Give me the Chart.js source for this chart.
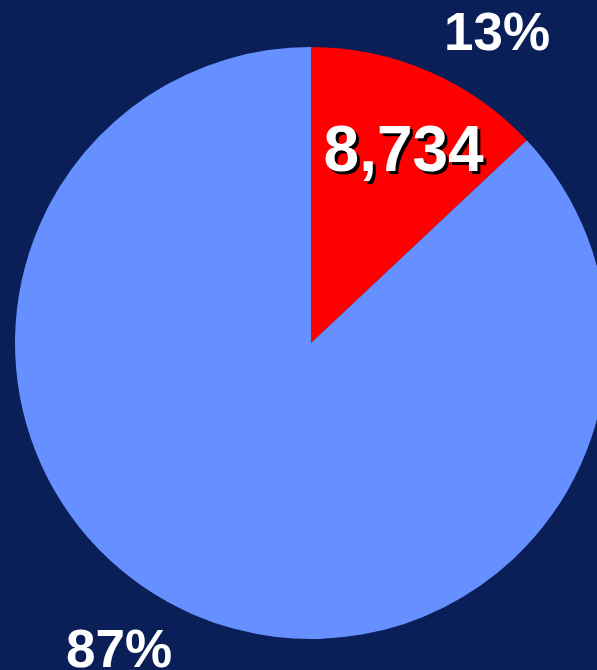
<!DOCTYPE html>
<html>
<head>
<meta charset="utf-8">
<script src="https://cdn.jsdelivr.net/npm/chart.js@4"></script>
<style>
  html, body { margin: 0; padding: 0; overflow: hidden; background: #0a1e58; }
  #wrap { position: relative; width: 597px; height: 670px; overflow: hidden; }
  canvas { position: absolute; left: 0; top: 0; }
</style>
</head>
<body>
<div id="wrap"><canvas id="pie" width="622" height="686"></canvas></div>
<script>
const categories = ['Segment A', 'Segment B'];
const values = [8734, 58451];
const colors = ['#ff0000', '#6690ff'];

const total = values.reduce((a, b) => a + b, 0);
const pct = values.map(v => Math.round(v / total * 100) + '%');

// text spots for the percent labels
const pctSpots = [[497, 50], [119, 667]];

const labelPlugin = {
    id: 'pieLabels',
    afterDatasetsDraw(chart) {
        const ctx = chart.ctx;
        ctx.save();
        ctx.fillStyle = '#ffffff';
        ctx.textAlign = 'center';
        ctx.textBaseline = 'alphabetic';
        ctx.font = 'bold 53px "Liberation Sans", Arial, sans-serif';
        pct.forEach((p, i) => {
            ctx.fillText(p, pctSpots[i][0], pctSpots[i][1]);
        });

        // count inside the red slice
        const arc = chart.getDatasetMeta(0).data[0];
        const mid = (arc.startAngle + arc.endAngle) / 2;
        const r = arc.outerRadius * 0.72;
        const x = arc.x + Math.cos(mid) * r;
        const y = arc.y + Math.sin(mid) * r;
        ctx.font = 'bold 64px "Liberation Sans", Arial, sans-serif';
        ctx.shadowColor = '#000000';
        ctx.shadowOffsetX = 3;
        ctx.shadowOffsetY = 3;
        ctx.shadowBlur = 0;
        ctx.fillText(values[0].toLocaleString('en-US'), x + 8, y + 24);
        ctx.restore();
    }
};

new Chart(document.getElementById('pie'), {
    type: 'pie',
    data: {
        labels: categories,
        datasets: [{
            data: values,
            backgroundColor: colors,
            borderWidth: 0
        }]
    },
    options: {
        responsive: false,
        animation: false,
        layout: { padding: { left: 15, right: 15, top: 47, bottom: 47 } },
        plugins: {
            legend: { display: false },
            tooltip: { enabled: false }
        }
    },
    plugins: [labelPlugin]
});
</script>
</body>
</html>
